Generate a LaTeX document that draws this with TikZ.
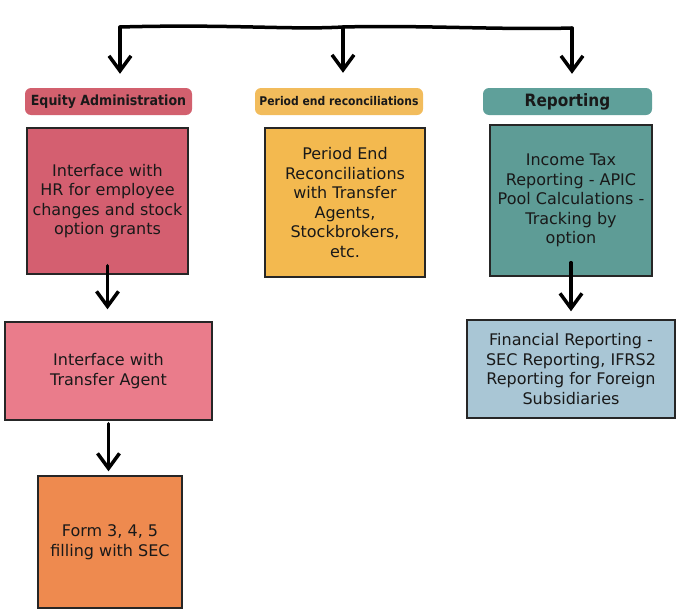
\documentclass[tikz,border=0pt]{standalone}
\usepackage{fontspec}
\setmainfont{DejaVu Sans}
\newfontfamily\headfont[FakeStretch=0.9]{DejaVu Sans}
\usetikzlibrary{arrows.meta}

% fills of the headers and boxes
\definecolor{eqhead}{HTML}{D2606E}
\definecolor{eqbox}{HTML}{D45F70}
\definecolor{tabox}{HTML}{EA7C8B}
\definecolor{formbox}{HTML}{EE8A4F}
\definecolor{perhead}{HTML}{F2BC5C}
\definecolor{perbox}{HTML}{F3B94F}
\definecolor{rephead}{HTML}{5FA09A}
\definecolor{repbox}{HTML}{5E9C96}
\definecolor{finbox}{HTML}{A9C6D5}

\begin{document}
\begin{tikzpicture}[x=1pt, y=-1pt,
  box/.style={draw=black!85, line width=1.4pt, align=center, inner sep=0pt,
    text=black!90, font=\fontsize{16}{19.5}\selectfont},
  head/.style={rounded corners=6pt, inner sep=0pt, minimum height=27pt,
    text=black!90},
  arr/.style={line width=3.5pt, line cap=round,
    -{Straight Barb[length=15pt, width=22pt, line width=3.5pt]}},
  bar/.style={line width=3.5pt, line cap=round}]

% page frame, pixel units
\useasboundingbox (0,0) rectangle (680,613);

% three column headers
\node[head, fill=eqhead, minimum width=167pt,
  font=\headfont\fontsize{14}{16}\selectfont\bfseries]
  (eqhead) at (108.5,101.5) {Equity Administration};
\node[head, fill=perhead, minimum width=168pt,
  font=\headfont\fontsize{12}{14}\selectfont\bfseries]
  (perhead) at (339,101.5) {Period end reconciliations};
\node[head, fill=rephead, minimum width=169pt,
  font=\headfont\fontsize{17}{19}\selectfont\bfseries]
  (rephead) at (567.5,101.5) {Reporting};

% boxes under the headers
\node[box, fill=eqbox, minimum width=161pt, minimum height=146pt]
  (eqbox) at (107.5,201) {Interface with\\HR for employee\\changes and stock\\option grants};
\node[box, fill=perbox, minimum width=160pt, minimum height=149pt]
  (perbox) at (345,202.5) {Period End\\Reconciliations\\with Transfer\\Agents,\\Stockbrokers,\\etc.};
\node[box, fill=repbox, minimum width=162pt, minimum height=151pt]
  (repbox) at (571,200.5) {Income Tax\\Reporting - APIC\\Pool Calculations -\\Tracking by\\option};

% second and third rows
\node[box, fill=tabox, minimum width=207pt, minimum height=98pt]
  (tabox) at (108.5,371) {Interface with\\Transfer Agent};
\node[box, fill=formbox, minimum width=144pt, minimum height=132pt]
  (formbox) at (110,542) {Form 3, 4, 5\\filling with SEC};
\node[box, fill=finbox, minimum width=208pt, minimum height=98pt]
  (finbox) at (571,369) {Financial Reporting -\\SEC Reporting, IFRS2\\Reporting for Foreign\\Subsidiaries};

% top bar with its three drops
\coordinate (lt) at (120,27);
\coordinate (mt) at (343,27);
\coordinate (rt) at (572,28);
\draw[bar] (lt) .. controls (230,24) and (290,30) .. (mt)
  .. controls (420,25) and (500,30) .. (rt);
\draw[arr, shorten >=14pt] (lt) -- (lt |- eqhead.north);
\draw[arr, shorten >=15pt] (mt) -- (mt |- perhead.north);
\draw[arr, shorten >=14pt] (rt) -- (rt |- rephead.north);

% arrows between the boxes
\draw[arr, shorten <=-9pt, shorten >=12pt] (eqbox.south) -- (eqbox.south |- tabox.north);
\draw[arr, shorten <=3pt, shorten >=4pt] (tabox.south) -- (tabox.south |- formbox.north);
\draw[arr, shorten <=-14pt, shorten >=8pt] (repbox.south) -- (repbox.south |- finbox.north);

\end{tikzpicture}
\end{document}
